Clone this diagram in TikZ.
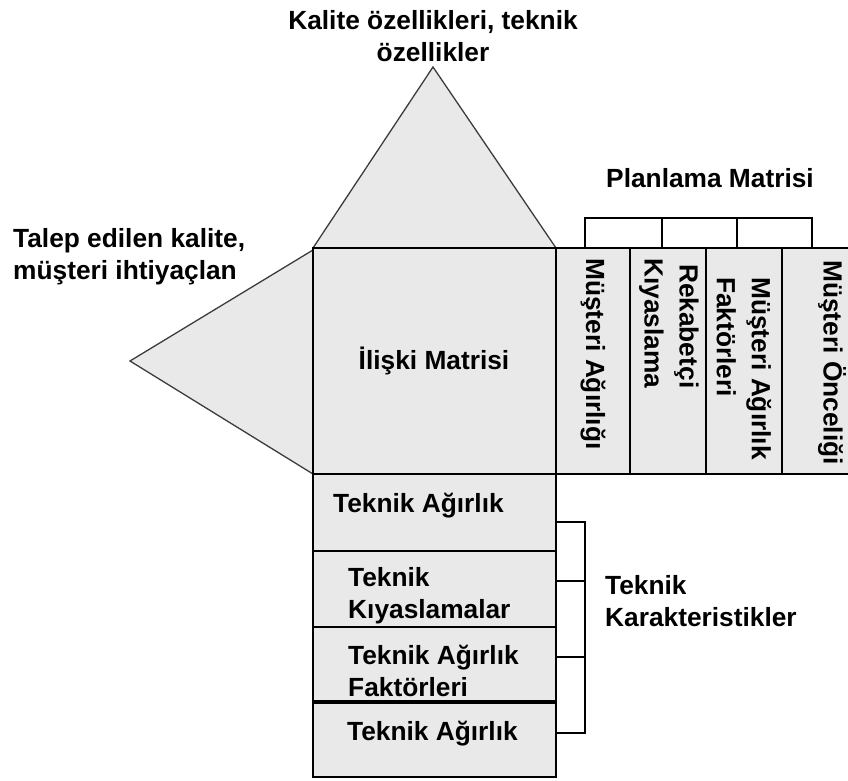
\documentclass[tikz,border=0pt]{standalone}
\usepackage{fontspec}
\setmainfont{Liberation Sans}
\definecolor{panel}{RGB}{233,233,233}
\definecolor{edge}{RGB}{60,60,60}
\tikzset{
  box/.style={fill=panel, draw=black, line width=1.6pt},
  tri/.style={fill=panel, draw=edge, line width=1.3pt, line join=miter},
  brace/.style={draw=black, line width=1.4pt},
  lbl/.style={font=\bfseries\fontsize{26.3}{32}\selectfont, inner sep=0pt},
  vlbl/.style={lbl, font=\bfseries\fontsize{26.3}{35}\selectfont, rotate=-90, anchor=west},
}
\begin{document}
\begin{tikzpicture}[x=1pt,y=1pt]
\useasboundingbox (0,0) rectangle (848,-781);
\clip (0,0) rectangle (848,-781);

% roof (correlation triangle)
\draw[tri] (313,-248) -- (433,-67) -- (556,-248) -- cycle;
% left wall (customer requirements)
\draw[tri] (313,-250) -- (130,-361) -- (313,-474) -- cycle;

% relationship matrix
\draw[box] (313,-248) rectangle (556,-474);

% planning matrix columns
\draw[box] (556,-248) rectangle (630,-474);
\draw[box] (630,-248) rectangle (706,-474);
\draw[box] (706,-248) rectangle (782,-474);
\draw[box] (782,-248) rectangle (870,-474);

% bracket over the planning matrix
\draw[brace] (585,-248) -- (585,-218) -- (812,-218) -- (812,-248);
\draw[brace] (662,-218) -- (662,-248);
\draw[brace] (737,-218) -- (737,-248);

% technical rows below the relationship matrix
\draw[box] (313,-474) rectangle (556,-551);
\draw[box] (313,-551) rectangle (556,-627);
\draw[box] (313,-627) rectangle (556,-701);
\draw[box] (313,-703) rectangle (556,-777);

% bracket beside the technical rows
\draw[brace] (556,-522) -- (585,-522) -- (585,-733) -- (556,-733);
\draw[brace] (556,-581) -- (585,-581);
\draw[brace] (556,-657) -- (585,-657);

% labels
\node[lbl, align=center, anchor=north] (roof) at (433,-10)
  {Kalite özellikleri, teknik\\özellikler};
\node[lbl, align=left, anchor=north west] (wall) at (13,-228)
  {Talep edilen kalite,\\müşteri ihtiyaçlan};
\node[lbl] (rel) at (434,-361) {İlişki Matrisi};
\node[lbl, anchor=north] (plan) at (710,-168) {Planlama Matrisi};
\node[lbl, align=left, anchor=north west] (tech) at (605,-575)
  {Teknik\\Karakteristikler};

% planning matrix column headings
\node[vlbl] (c1) at (593,-258) {Müşteri Ağırlığı};
\node[vlbl, align=right] (c2) at (669,-258) {Rekabetçi\\Kıyaslama};
\node[vlbl, align=left] (c3) at (744,-277) {Müşteri Ağırlık\\Faktörleri};
\node[vlbl] (c4) at (832,-260) {Müşteri Önceliği};

% technical row headings
\node[lbl, anchor=north west] (r1) at (333,-493) {Teknik Ağırlık};
\node[lbl, align=left, anchor=north west] (r2) at (348,-567) {Teknik\\Kıyaslamalar};
\node[lbl, align=left, anchor=north west] (r3) at (348,-645) {Teknik Ağırlık\\Faktörleri};
\node[lbl, anchor=north west] (r4) at (347,-721) {Teknik Ağırlık};
\end{tikzpicture}
\end{document}
